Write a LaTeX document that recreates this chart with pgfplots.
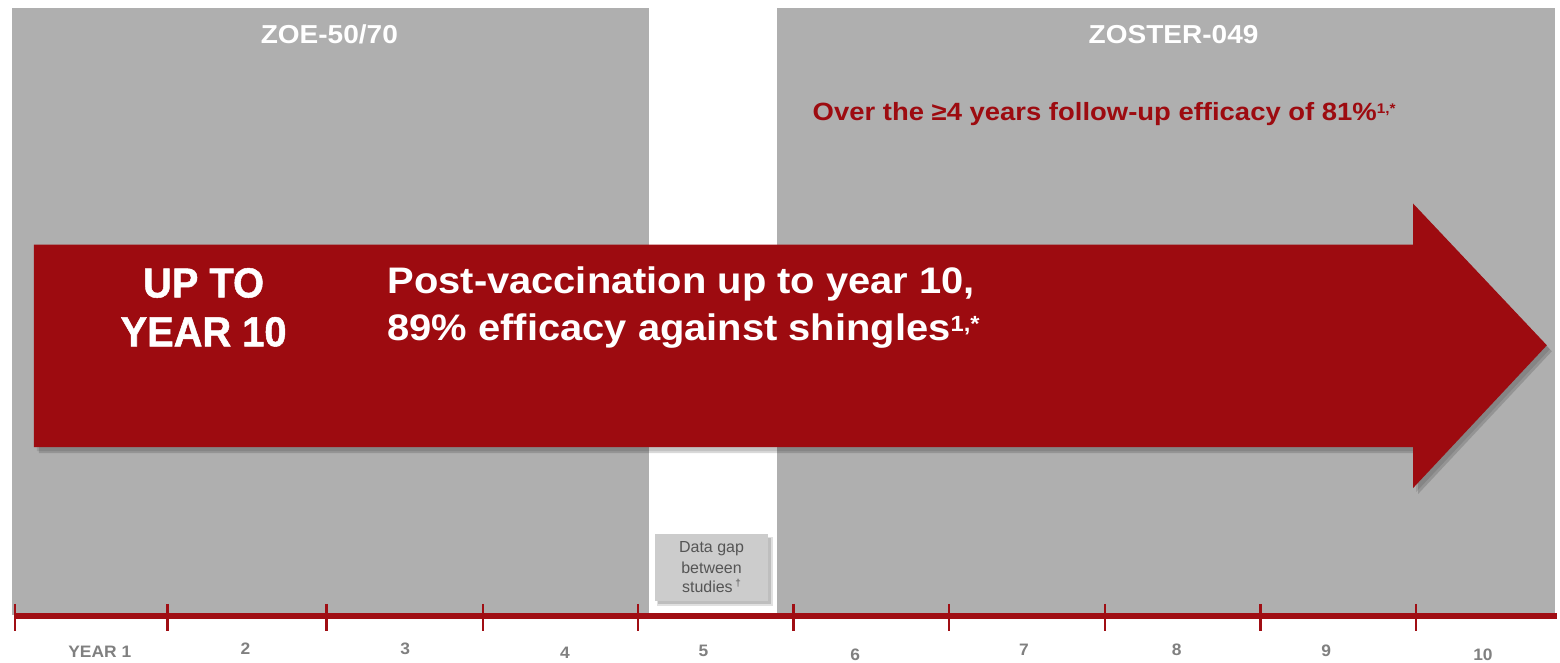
\documentclass[border=0pt]{standalone}
\usepackage{fontspec}
\setmainfont{Liberation Sans}
\usepackage{pgfplots}
\pgfplotsset{compat=1.18}
\newfontfamily\fmain[FakeStretch=1.08]{Liberation Sans}
\newfontfamily\fup[FakeStretch=0.95,FakeBold=1.2]{Liberation Sans}
\newfontfamily\fover[FakeStretch=1.1]{Liberation Sans}
\newfontfamily\ftitle[FakeStretch=1.08]{Liberation Sans}
\newfontfamily\fyear[FakeStretch=1.05]{Liberation Sans}
\definecolor{panel}{RGB}{175,175,175}
\definecolor{darkred}{RGB}{157,11,16}
\definecolor{linered}{RGB}{160,14,20}
\definecolor{boxgray}{RGB}{204,204,204}
\definecolor{labgray}{RGB}{128,128,128}
\definecolor{txtgray}{RGB}{85,85,85}
\begin{document}
\begin{tikzpicture}
\begin{axis}[width=780pt,height=332pt,scale only axis,
  xmin=0,xmax=1560,ymin=0,ymax=664,y dir=reverse,
  hide axis,clip=false]
% background
\addplot[fill=white,draw=none] coordinates {(0,0)(1560,0)(1560,664)(0,664)} -- cycle;
% study panels
\addplot[fill=panel,draw=none] coordinates {(12,8)(650,8)(650,616)(12,616)} -- cycle;
\addplot[fill=panel,draw=none] coordinates {(779,8)(1558,8)(1558,616)(779,616)} -- cycle;
% arrow shadow
\addplot[fill=black,fill opacity=0.10,draw=none] coordinates {(37,249)(1419,249)(1419,208)(1553,350)(1419,493)(1419,452)(37,452)} -- cycle;
\addplot[fill=black,fill opacity=0.15,draw=none] coordinates {(39,251)(1421,251)(1421,210)(1555,352)(1421,495)(1421,454)(39,454)} -- cycle;
% arrow
\addplot[fill=darkred,draw=none] coordinates {(34,245)(1416,245)(1416,204)(1550,346)(1416,489)(1416,448)(34,448)} -- cycle;
% data gap box with shadow
\addplot[fill=black,fill opacity=0.12,draw=none] coordinates {(658,538)(775,538)(775,607)(658,607)} -- cycle;
\addplot[fill=black,fill opacity=0.15,draw=none] coordinates {(659,539)(773,539)(773,605)(659,605)} -- cycle;
\addplot[fill=boxgray,draw=none] coordinates {(656,535)(770,535)(770,602)(656,602)} -- cycle;
% timeline
\addplot[draw=linered,line width=3.2pt] coordinates {(15,617.5)(1560,617.5)};
\addplot[only marks,mark=|,mark size=6.75pt,mark options={draw=linered,line width=1.2pt}]
  coordinates {(15,618.5)(168,618.5)(327,618.5)(484,618.5)(639,618.5)(795,618.5)(951,618.5)(1107,618.5)(1263,618.5)(1419,618.5)};
% year labels
\begin{scope}[every node/.style={inner sep=0pt,anchor=center,text=labgray,font=\fyear\bfseries\fontsize{8.3}{9}\selectfont}]
\node at (axis cs:100,653) {YEAR 1};
\node at (axis cs:246,650) {2};
\node at (axis cs:406,650) {3};
\node at (axis cs:566,654) {4};
\node at (axis cs:705,652) {5};
\node at (axis cs:857,656) {6};
\node at (axis cs:1026,651) {7};
\node at (axis cs:1179,651) {8};
\node at (axis cs:1329,652) {9};
\node at (axis cs:1486,656) {10};
\end{scope}
% titles
\node[inner sep=0pt,anchor=base,text=white,font=\ftitle\bfseries\fontsize{13}{15}\selectfont] at (axis cs:330,44) {ZOE-50/70};
\node[inner sep=0pt,anchor=base,text=white,font=\ftitle\bfseries\fontsize{13}{15}\selectfont] at (axis cs:1176,44) {ZOSTER-049};
\node[inner sep=0pt,anchor=base west,text=darkred,font=\fover\bfseries\fontsize{12.5}{14}\selectfont] at (axis cs:814,121) {Over the ≥4 years follow-up efficacy of 81\%\raisebox{3.8pt}{\fontsize{7}{8}\selectfont 1,*}};
% arrow text
\node[inner sep=0pt,anchor=base,text=white,font=\fup\bfseries\fontsize{21}{24}\selectfont] at (axis cs:204,298) {UP TO};
\node[inner sep=0pt,anchor=base,text=white,font=\fup\bfseries\fontsize{21}{24}\selectfont] at (axis cs:204,347) {YEAR 10};
\node[inner sep=0pt,anchor=base west,text=white,font=\fmain\bfseries\fontsize{18.5}{22}\selectfont] at (axis cs:388,294) {Post-vaccination up to year 10,};
\node[inner sep=0pt,anchor=base west,text=white,font=\fmain\bfseries\fontsize{18.5}{22}\selectfont] at (axis cs:388,341) {89\% efficacy against shingles\raisebox{4.5pt}{\fontsize{11}{12}\selectfont 1,*}};
% data gap text
\begin{scope}[every node/.style={inner sep=0pt,anchor=base,text=txtgray,font=\fontsize{8}{9}\selectfont}]
\node at (axis cs:713,554) {Data gap};
\node at (axis cs:713,575) {between};
\node at (axis cs:713,594) {studies\,\raisebox{3pt}{\fontsize{5}{6}\selectfont †}};
\end{scope}
\end{axis}
\end{tikzpicture}
\end{document}
